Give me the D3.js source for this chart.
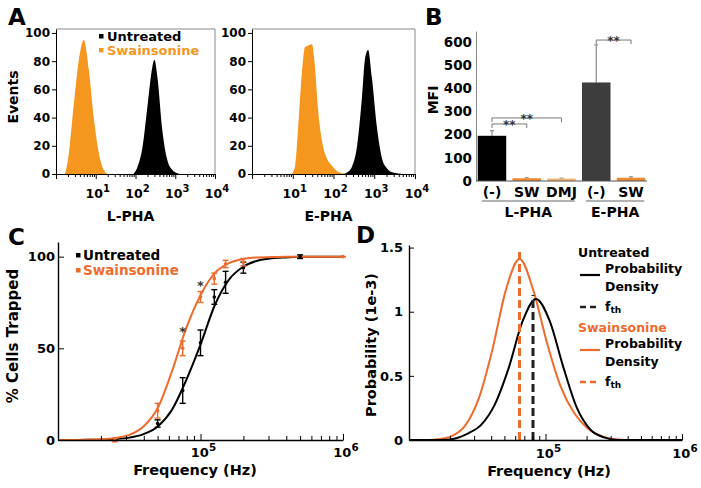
<!DOCTYPE html>
<html><head><meta charset="utf-8">
<script src="https://cdn.jsdelivr.net/npm/d3@7"></script>
<style>
body{margin:0;background:#fff}
svg text{font-family:"DejaVu Sans",sans-serif;font-weight:bold}
</style>
</head><body>
<svg id="chart" width="701" height="488"></svg>
<script>
// ---------------- DATA ----------------
// Panel A: flow cytometry histograms (fluorescence, % of max events)
const histPanels = ["L-PHA", "E-PHA"];
const histYTicks = [0, 20, 40, 60, 80, 100];
const histXPowers = [1, 2, 3, 4];
const lphaUntreatedX = [89, 112, 150, 200, 266, 299, 355, 473, 631, 841, 1122, 1318];
const lphaUntreatedY = [0, 5, 19, 48, 76, 81, 69, 31, 10, 3, 0.5, 0];
const lphaSwainX = [1.68, 2.0, 2.82, 3.76, 5.0, 6.68, 8.9, 11.9, 15.8, 20];
const lphaSwainY = [0, 10, 50, 81, 95, 74, 40, 15, 3, 0];
const ephaUntreatedX = [178, 214, 282, 380, 501, 589, 708, 871, 1175, 1549, 2042, 2884, 5129];
const ephaUntreatedY = [0, 1, 5, 20, 55, 81, 88, 69, 32, 11, 4, 1, 0];
const ephaSwainX = [9.5, 11.5, 13.5, 17, 20, 23.4, 29.5, 35.5, 41.7, 52.5, 69, 91, 123, 170, 224];
const ephaSwainY = [0, 6, 32, 74, 90, 91, 92, 74, 46, 23, 11, 6, 2, 0.5, 0];
const legendNames = ["Untreated", "Swainsonine"];

// Panel B: MFI bars
const bCategories = ["(-)", "SW", "DMJ", "(-)", "SW"];
const bValues = [195, 12, 11, 425, 14];
const bErrors = [22, 2, 1, 162, 4];
const bGroups = ["L-PHA", "E-PHA"];
const bGroupMembers = [[0, 2], [3, 4]];
const bYTicks = [0, 100, 200, 300, 400, 500, 600];
const bSigPairs = [[0, 1, 246], [0, 2, 272], [3, 4, 608]];
const bSigLabel = "**";

// Panel C: % cells trapped vs frequency
const cUntFreq = [50000, 75000, 100000, 125000, 150000, 200000, 500000];
const cUntMean = [9, 27, 53, 78, 86, 94, 100];
const cUntErr = [2, 7, 7, 4, 6, 3, 1];
const cSwFreq = [25000, 50000, 75000, 100000, 125000, 150000, 200000, 1000000];
const cSwMean = [0, 16, 50, 78, 88, 96, 97, 100];
const cSwErr = [1, 4, 4, 3, 3, 2, 2, 0];
const fitFreq = [10000, 12589, 15849, 19953, 25119, 31623, 39811, 50119, 63096, 79433, 100000, 125893, 158489, 199526, 251189, 316228, 398107, 501187, 630957, 794328, 1000000];
const cUntFit = [0, 0, 0.1, 0.2, 0.5, 1.3, 3.2, 7.4, 16.5, 32.7, 52, 73.5, 87.5, 94.5, 97.8, 99.1, 99.6, 99.9, 100, 100, 100];
const cSwFit = [0, 0, 0.2, 0.4, 1.1, 2.8, 7.4, 17.5, 37.5, 61, 79, 91, 96.5, 98.8, 99.6, 99.8, 100, 100, 100, 100, 100];
const cStarFreq = [75000, 100000];
const cStarLevel = [61, 86];
const cYTicks = [0, 50, 100];
const freqPowers = [5, 6];

// Panel D: probability density (1e-3)
const dUntFreq = [10000, 16982, 21380, 26915, 33884, 42658, 53703, 67608, 85114, 107152, 134896, 169824, 213796, 269153, 338844, 1000000];
const dUntDens = [0, 0, 0.01, 0.05, 0.12, 0.28, 0.56, 0.92, 1.10, 0.93, 0.57, 0.25, 0.08, 0.02, 0, 0];
const dSwFreq = [10000, 14125, 16218, 20417, 25704, 32359, 40738, 51286, 64565, 81283, 102329, 128825, 162181, 204174, 257040, 323594, 398107, 1000000];
const dSwDens = [0, 0, 0.005, 0.03, 0.11, 0.32, 0.70, 1.17, 1.41, 1.17, 0.76, 0.42, 0.21, 0.09, 0.03, 0.005, 0, 0];
const fthFreq = [81000, 64500];
const fthTop = [1.13, 1.48];
const dYTicks = [0, 0.5, 1, 1.5];
const dYLabels = ["0", "0.5", "1", "1.5"];

// ---------------- STYLE ----------------
const A_ORANGE = "#f5961f";
const C_ORANGE = "#ef6b2d";
const svg = d3.select("#chart");

function supLabel(g, x, y, base, exp, size, anchor) {
  const t = g.append("text").attr("x", x).attr("y", y)
    .attr("text-anchor", anchor || "middle").style("font-size", size + "px");
  t.append("tspan").text(base);
  t.append("tspan").attr("dy", -size * 0.5).style("font-size", (size * 0.8) + "px").text(exp);
  return t;
}
function styleAxis(a, size) {
  a.style("font-size", size + "px");
  a.selectAll("path,line").attr("stroke", "#000");
  a.selectAll("text").attr("fill", "#000");
}
function panelLetter(x, y, s) {
  svg.append("text").attr("x", x).attr("y", y).style("font-size", "23px").text(s);
}

// ---------------- PANEL A ----------------
function histPanel(x0, x1, title, untX, untY, swX, swY, showLegend) {
  const x = d3.scaleLog().domain([1, 10000]).range([x0, x1]);
  const y = d3.scaleLinear().domain([0, 102.8]).range([174, 29]);
  const g = svg.append("g");
  const area = (xs, ys) => d3.area()
    .x((d, i) => x(xs[i])).y0(y(0)).y1(d => y(d))
    .curve(d3.curveMonotoneX)(ys);
  g.append("path").attr("d", area(swX, swY)).attr("fill", A_ORANGE);
  g.append("path").attr("d", area(untX, untY)).attr("fill", "#000");
  // frame (top/right)
  g.append("path").attr("d", `M${x.range()[0]},${y(102.8)}H${x.range()[1]}V${y(0)}`)
    .attr("fill", "none").attr("stroke", "#8a8a8a").attr("stroke-width", 1);
  const ya = g.append("g").attr("transform", `translate(${x0},0)`)
    .call(d3.axisLeft(y).tickValues(histYTicks).tickSize(4).tickSizeOuter(0).tickPadding(2));
  styleAxis(ya, 12);
  const xa = g.append("g").attr("transform", `translate(0,${y(0)})`)
    .call(d3.axisBottom(x).tickValues(x.ticks()).tickFormat("").tickSize(3).tickSizeOuter(0));
  styleAxis(xa, 12);
  xa.selectAll(".tick line").attr("y2", d => Math.abs(Math.log10(d) % 1) < 1e-9 ? 5 : 3);
  histXPowers.forEach(p => supLabel(g, x(Math.pow(10, p)) + 2, 198, "10", String(p), 12.5));
  g.append("text").attr("x", (x0 + x1) / 2 - 5).attr("y", 221).attr("text-anchor", "middle")
    .style("font-size", "14px").text(title);
  if (showLegend) {
    const colors = ["#000", A_ORANGE];
    legendNames.forEach((n, i) => {
      g.append("rect").attr("x", 99).attr("y", 34 + i * 14).attr("width", 4.5).attr("height", 4.5).attr("fill", colors[i]);
      g.append("text").attr("x", 107).attr("y", 41 + i * 14).attr("fill", colors[i])
        .style("font-size", "13px").text(n);
    });
  }
  return g;
}
histPanel(56, 215, histPanels[0], lphaUntreatedX, lphaUntreatedY, lphaSwainX, lphaSwainY, true);
histPanel(252, 415, histPanels[1], ephaUntreatedX, ephaUntreatedY, ephaSwainX, ephaSwainY, false);
svg.append("text").attr("transform", "translate(18,97) rotate(-90)").attr("text-anchor", "middle")
  .style("font-size", "14px").text("Events");
panelLetter(8, 25, "A");

// ---------------- PANEL B ----------------
(function () {
  const y = d3.scaleLinear().domain([0, 647]).range([181, 31]);
  const x = d3.scaleBand().domain(d3.range(bCategories.length)).range([476, 647])
    .paddingInner(0.18).paddingOuter(0.05);
  const g = svg.append("g");
  const barColors = ["#000", "#ee8a33", "#f5b87c", "#3d3d3d", "#ee8a33"];
  // error bars (behind bars)
  bValues.forEach((v, i) => {
    const cx = x(i) + x.bandwidth() / 2;
    g.append("line").attr("x1", cx).attr("x2", cx).attr("y1", y(v)).attr("y2", y(v + bErrors[i]))
      .attr("stroke", "#888").attr("stroke-width", 1.2);
    g.append("line").attr("x1", cx - 2).attr("x2", cx + 2).attr("y1", y(v + bErrors[i])).attr("y2", y(v + bErrors[i]))
      .attr("stroke", "#888").attr("stroke-width", 1.2);
  });
  g.selectAll("rect.bar").data(bValues).join("rect").attr("class", "bar")
    .attr("x", (d, i) => x(i)).attr("width", x.bandwidth())
    .attr("y", d => y(d)).attr("height", d => y(0) - y(d))
    .attr("fill", (d, i) => barColors[i]);
  const ya = g.append("g").attr("transform", "translate(476,0)")
    .call(d3.axisLeft(y).tickValues(bYTicks).tickSize(0).tickSizeOuter(0).tickPadding(4));
  styleAxis(ya, 13.5);
  ya.select(".domain").attr("stroke", "#888");
  g.append("line").attr("x1", 476).attr("x2", 647).attr("y1", y(0)).attr("y2", y(0)).attr("stroke", "#555");
  bCategories.forEach((c, i) => {
    g.append("text").attr("x", x(i) + x.bandwidth() / 2).attr("y", 197).attr("text-anchor", "middle")
      .style("font-size", "14px").text(c);
  });
  bGroups.forEach((gname, k) => {
    const a = x(bGroupMembers[k][0]) + 4, b = x(bGroupMembers[k][1]) + x.bandwidth() - 1;
    g.append("line").attr("x1", a).attr("x2", b).attr("y1", 201).attr("y2", 201).attr("stroke", "#666");
    g.append("text").attr("x", (a + b) / 2).attr("y", 217).attr("text-anchor", "middle")
      .style("font-size", "14px").text(gname);
  });
  bSigPairs.forEach(([i, j, lvl]) => {
    const a = x(i) + x.bandwidth() / 2, b = x(j) + x.bandwidth() / 2, yy = y(lvl);
    g.append("path").attr("d", `M${a},${yy + 4}V${yy}H${b}V${yy + 4}`)
      .attr("fill", "none").attr("stroke", "#777").attr("stroke-width", 1);
    g.append("text").attr("x", (a + b) / 2).attr("y", yy + 5).attr("text-anchor", "middle")
      .attr("fill", "#333").style("font-size", "12px").text(bSigLabel);
  });
  svg.append("text").attr("transform", "translate(438,100) rotate(-90)").attr("text-anchor", "middle")
    .style("font-size", "14px").text("MFI");
})();
panelLetter(425, 25, "B");

// ---------------- PANEL C ----------------
(function () {
  const x = d3.scaleLog().domain([1e4, 1e6]).range([58, 343]);
  const y = d3.scaleLinear().domain([0, 108]).range([440, 242]);
  const g = svg.append("g");
  const line = (xs) => d3.line().x((d, i) => x(xs[i])).y(d => y(d)).curve(d3.curveMonotoneX);
  g.append("path").attr("d", line(fitFreq)(cUntFit)).attr("fill", "none").attr("stroke", "#000").attr("stroke-width", 2);
  g.append("path").attr("d", line(fitFreq)(cSwFit)).attr("fill", "none").attr("stroke", C_ORANGE).attr("stroke-width", 2);
  function errs(fr, mean, err, col) {
    fr.forEach((f, i) => {
      const cx = x(f);
      g.append("line").attr("x1", cx).attr("x2", cx).attr("y1", y(mean[i] - err[i])).attr("y2", y(mean[i] + err[i]))
        .attr("stroke", col).attr("stroke-width", 1.4);
      [mean[i] - err[i], mean[i] + err[i]].forEach(v =>
        g.append("line").attr("x1", cx - 3).attr("x2", cx + 3).attr("y1", y(v)).attr("y2", y(v))
          .attr("stroke", col).attr("stroke-width", 1.4));
      g.append("circle").attr("cx", cx).attr("cy", y(mean[i])).attr("r", 1.8).attr("fill", col);
    });
  }
  errs(cUntFreq, cUntMean, cUntErr, "#000");
  errs(cSwFreq, cSwMean, cSwErr, C_ORANGE);
  cStarFreq.forEach((f, i) => g.append("text").attr("x", x(f)).attr("y", y(cStarLevel[i]) + 8)
    .attr("text-anchor", "middle").attr("fill", "#333").style("font-size", "13px").text("*"));
  const ya = g.append("g").attr("transform", "translate(58,0)")
    .call(d3.axisLeft(y).tickValues(cYTicks).tickSize(-6).tickSizeOuter(0).tickPadding(4));
  styleAxis(ya, 13);
  ya.selectAll(".tick text").attr("x", -3);
  ya.select(".domain").attr("stroke-width", 1.4);
  const xa = g.append("g").attr("transform", `translate(0,${y(0)})`)
    .call(d3.axisBottom(x).tickValues(x.ticks()).tickFormat("").tickSize(-4).tickSizeOuter(0));
  styleAxis(xa, 13);
  xa.select(".domain").attr("stroke-width", 1.4);
  xa.selectAll(".tick line").attr("y2", d => Math.abs(Math.log10(d) % 1) < 1e-9 ? -6 : -4);
  freqPowers.forEach(p => supLabel(g, x(Math.pow(10, p)) + 3, 457, "10", String(p), 13));
  g.append("text").attr("x", 195).attr("y", 475).attr("text-anchor", "middle").style("font-size", "14.5px").text("Frequency (Hz)");
  svg.append("text").attr("transform", "translate(18,336) rotate(-90)").attr("text-anchor", "middle")
    .style("font-size", "15px").text("% Cells Trapped");
  const colors = ["#000", C_ORANGE];
  legendNames.forEach((n, i) => {
    g.append("rect").attr("x", 76).attr("y", 253 + i * 15).attr("width", 4.5).attr("height", 4.5).attr("fill", colors[i]);
    g.append("text").attr("x", 83).attr("y", 260 + i * 15).attr("fill", colors[i]).style("font-size", "13.5px").text(n);
  });
})();
panelLetter(8, 245, "C");

// ---------------- PANEL D ----------------
(function () {
  const x = d3.scaleLog().domain([1e4, 1e6]).range([409, 682]);
  const y = d3.scaleLinear().domain([0, 1.52]).range([440, 245]);
  const g = svg.append("g");
  const line = (xs) => d3.line().x((d, i) => x(xs[i])).y(d => y(d)).curve(d3.curveMonotoneX);
  g.append("path").attr("d", line(dSwFreq)(dSwDens)).attr("fill", "none").attr("stroke", C_ORANGE).attr("stroke-width", 2);
  g.append("path").attr("d", line(dUntFreq)(dUntDens)).attr("fill", "none").attr("stroke", "#000").attr("stroke-width", 2);
  const fcol = ["#222", C_ORANGE];
  fthFreq.forEach((f, i) => g.append("line").attr("x1", x(f)).attr("x2", x(f)).attr("y1", y(0)).attr("y2", y(fthTop[i]))
    .attr("stroke", fcol[i]).attr("stroke-width", 3).attr("stroke-dasharray", "8,4"));
  const ya = g.append("g").attr("transform", "translate(409,0)")
    .call(d3.axisLeft(y).tickValues(dYTicks).tickFormat((d, i) => dYLabels[i]).tickSize(-5).tickSizeOuter(0).tickPadding(4));
  styleAxis(ya, 13);
  ya.selectAll(".tick text").attr("x", -6);
  ya.select(".domain").attr("stroke-width", 1.4);
  const xa = g.append("g").attr("transform", `translate(0,${y(0)})`)
    .call(d3.axisBottom(x).tickValues(x.ticks()).tickFormat("").tickSize(-4).tickSizeOuter(0));
  styleAxis(xa, 13);
  xa.select(".domain").attr("stroke-width", 1.4);
  xa.selectAll(".tick line").attr("y2", d => Math.abs(Math.log10(d) % 1) < 1e-9 ? -6 : -4);
  freqPowers.forEach(p => supLabel(g, x(Math.pow(10, p)) + 3, 458, "10", String(p), 13));
  g.append("text").attr("x", 549).attr("y", 476).attr("text-anchor", "middle").style("font-size", "14.5px").text("Frequency (Hz)");
  svg.append("text").attr("transform", "translate(376,345) rotate(-90)").attr("text-anchor", "middle")
    .style("font-size", "14.5px").text("Probability (1e-3)");
  // legend
  const cols = ["#000", C_ORANGE];
  legendNames.forEach((n, i) => {
    const oy = i * 75;
    g.append("text").attr("x", 578).attr("y", 257 + oy).attr("fill", cols[i]).style("font-size", "12.5px").text(n);
    g.append("line").attr("x1", 580).attr("x2", 600).attr("y1", 275 + oy).attr("y2", 275 + oy)
      .attr("stroke", cols[i]).attr("stroke-width", 2.2);
    g.append("text").attr("x", 605).attr("y", 273 + oy).attr("fill", "#000").style("font-size", "12.5px").text("Probability");
    g.append("text").attr("x", 605).attr("y", 291 + oy).attr("fill", "#000").style("font-size", "12.5px").text("Density");
    g.append("line").attr("x1", 580).attr("x2", 600).attr("y1", 307 + oy).attr("y2", 307 + oy)
      .attr("stroke", i === 0 ? "#222" : C_ORANGE).attr("stroke-width", 2.5).attr("stroke-dasharray", "6,4");
    const ft = g.append("text").attr("x", 605).attr("y", 311 + oy).attr("fill", "#000").style("font-size", "12.5px");
    ft.append("tspan").text("f");
    ft.append("tspan").attr("dy", 2).style("font-size", "9px").text("th");
  });
})();
panelLetter(356, 243, "D");
</script>
</body></html>
